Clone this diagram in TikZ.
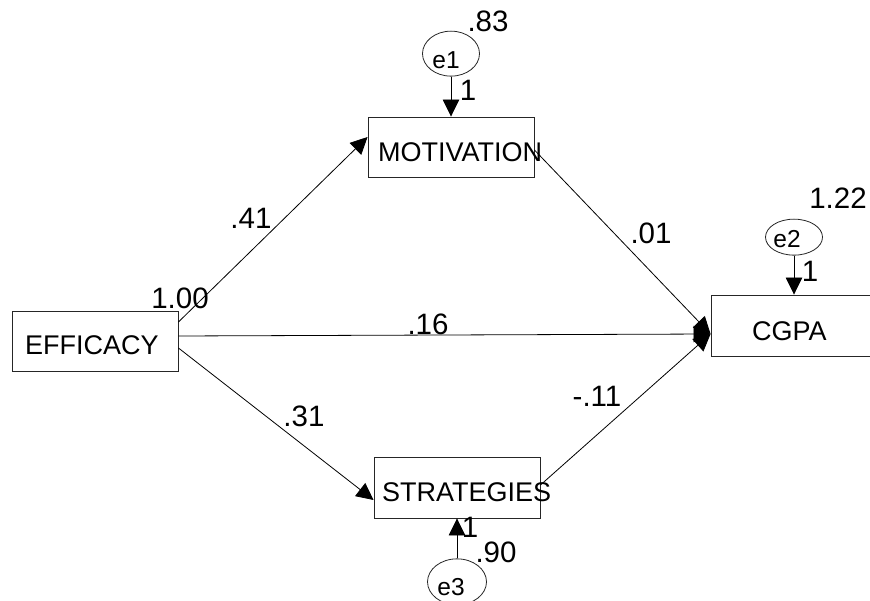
\documentclass[tikz,border=0pt]{standalone}
\usepackage{fontspec}
\setmainfont{Liberation Sans}
\usetikzlibrary{
  arrows.meta,
  positioning,
  shapes.geometric
}
\tikzset{
  var/.style={
    draw=black!85,
    line width=0.9pt,
    inner sep=0pt,
    minimum width=166pt,
    minimum height=60pt
  },
  err/.style={
    draw=black!85,
    ellipse,
    line width=0.8pt,
    inner sep=0pt
  }
}

\begin{document}
\begin{tikzpicture}[
      x=1pt, y=-1pt,
      >={Triangle[length=17pt,width=16.5pt]},
      arr/.style={->, line width=0.8pt},
      varlabel/.style={font=\fontsize{27}{30}\selectfont, inner sep=0pt, anchor=west},
      errlabel/.style={font=\fontsize{24.5}{28}\selectfont, inner sep=0pt},
      num/.style={font=\fontsize{29.5}{34}\selectfont, inner sep=0pt},
      node distance=40pt
      ]
      \clip (0,0) rectangle (870,601);

      % observed variables
      \node[var] (eff) at (95,341) {};
      \node[var] (mot) at (451,147) {};
      \node[var, minimum height=61pt] (str) at (457,487.5) {};
      \node[var, minimum height=61pt] (cgpa) at (794,325.5) {};

      \node[varlabel] (eff-t) at (25,345) {EFFICACY};
      \node[varlabel] (mot-t) at (378,152) {MOTIVATION};
      \node[varlabel] (str-t) at (382,492.5) {STRATEGIES};
      \node[varlabel] (cgpa-t) at (752,331) {CGPA};

      % error terms
      \node[err, minimum width=57pt, minimum height=45pt, above=of mot] (e1) {};
      \node[err, minimum width=57pt, minimum height=36pt, above=39pt of cgpa] (e2) {};
      \node[err, minimum width=59pt, minimum height=46pt, below=of str] (e3) {};

      \node[errlabel] (e1-t) at (446,60) {e1};
      \node[errlabel] (e2-t) at (787,239.5) {e2};
      \node[errlabel] (e3-t) at (451,587) {e3};

      \coordinate (hit) at ([yshift=-8.5pt]cgpa.west);

      \draw[arr] ([yshift=19pt]eff.east) -- ([yshift=10pt]mot.west);
      \draw[arr] ([yshift=5pt]eff.east) -- (hit);
      \draw[arr] ([yshift=-7pt]eff.east) -- ([yshift=-12.5pt]str.west);
      \draw[arr] ([yshift=-3pt]mot.east) -- (hit);
      \draw[arr] ([yshift=2.5pt]str.east) -- (hit);

      \draw[arr] (e1.south) -- (e1.south |- mot.north);
      \draw[arr] (e2.south) -- (e2.south |- cgpa.north);
      \draw[arr] (e3.north) -- (e3.north |- str.south);

      % estimates
      \foreach \t/\x/\y [count=\i] in {.41/251/218, 1.00/180/298, .16/428/324,
          .31/304/416, .01/651/233, -.11/597/396, .83/488/21, 1.22/838/198,
          .90/496/552, 1/470/527, 1/468/90, 1/810/271}{
        \node[num] (est\i) at (\x,\y) {\t};
      }
    \end{tikzpicture}
\end{document}
